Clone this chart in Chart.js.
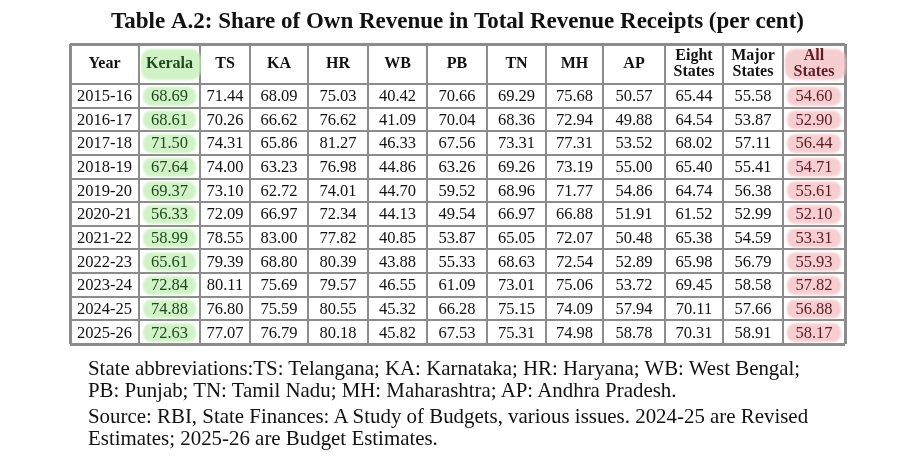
<!DOCTYPE html>
<html><head><meta charset="utf-8">
<script src="https://cdn.jsdelivr.net/npm/chart.js@4/dist/chart.umd.min.js"></script>
<style>
html,body{margin:0;padding:0;background:#fff;width:923px;height:461px;overflow:hidden}
#wrap{position:relative;width:923px;height:461px}
#note{position:absolute;left:88px;top:357px;font-family:'Liberation Serif',serif;font-size:20.9px;line-height:22px;color:#111;white-space:nowrap}
#note div{height:22px}
#note .gap{margin-top:4px}
</style></head><body>
<div id="wrap"><canvas id="c"></canvas>
<div id="note">
<div>State abbreviations:TS: Telangana; KA: Karnataka; HR: Haryana; WB: West Bengal;</div>
<div>PB: Punjab; TN: Tamil Nadu; MH: Maharashtra; AP: Andhra Pradesh.</div>
<div class="gap">Source: RBI, State Finances: A Study of Budgets, various issues. 2024-25 are Revised</div>
<div>Estimates; 2025-26 are Budget Estimates.</div>
</div>
</div>
<script>
// ---- data ----
const titleText = 'Table A.2: Share of Own Revenue in Total Revenue Receipts (per cent)';
const years = ['2015-16','2016-17','2017-18','2018-19','2019-20','2020-21','2021-22','2022-23','2023-24','2024-25','2025-26'];
const headers = ['Year','Kerala','TS','KA','HR','WB','PB','TN','MH','AP',['Eight','States'],['Major','States'],['All','States']];
const kerala = [68.69,68.61,71.50,67.64,69.37,56.33,58.99,65.61,72.84,74.88,72.63];
const ts     = [71.44,70.26,74.31,74.00,73.10,72.09,78.55,79.39,80.11,76.80,77.07];
const ka     = [68.09,66.62,65.86,63.23,62.72,66.97,83.00,68.80,75.69,75.59,76.79];
const hr     = [75.03,76.62,81.27,76.98,74.01,72.34,77.82,80.39,79.57,80.55,80.18];
const wb     = [40.42,41.09,46.33,44.86,44.70,44.13,40.85,43.88,46.55,45.32,45.82];
const pb     = [70.66,70.04,67.56,63.26,59.52,49.54,53.87,55.33,61.09,66.28,67.53];
const tn     = [69.29,68.36,73.31,69.26,68.96,66.97,65.05,68.63,73.01,75.15,75.31];
const mh     = [75.68,72.94,77.31,73.19,71.77,66.88,72.07,72.54,75.06,74.09,74.98];
const ap     = [50.57,49.88,53.52,55.00,54.86,51.91,50.48,52.89,53.72,57.94,58.78];
const eight  = [65.44,64.54,68.02,65.40,64.74,61.52,65.38,65.98,69.45,70.11,70.31];
const major  = [55.58,53.87,57.11,55.41,56.38,52.99,54.59,56.79,58.58,57.66,58.91];
const allStates = [54.60,52.90,56.44,54.71,55.61,52.10,53.31,55.93,57.82,56.88,58.17];
const series = [kerala,ts,ka,hr,wb,pb,tn,mh,ap,eight,major,allStates];

// ---- layout (relative units, separate from data) ----
const colWidths = [69,61,50,58,60,59,60,59,57,62,58,60,62];
const headerH = 40, rowH = 23.6;
const xEdges = colWidths.reduce((a,w)=>{a.push(a[a.length-1]+w);return a;},[0]);
const yEdges = [0, headerH]; years.forEach(()=>yEdges.push(yEdges[yEdges.length-1]+rowH));
const colCenter = i => (xEdges[i]+xEdges[i+1])/2;
const rowCenter = r => (yEdges[r+1]+yEdges[r+2])/2;
const FONT = "'Liberation Serif', 'Times New Roman', serif";
const hl = {1:{fill:'rgba(200,240,188,0.85)',text:'#1f4a1f'}, 12:{fill:'rgba(245,196,200,0.85)',text:'#5a1e24'}};

const datasets = series.map((vals,si)=>({
  label: Array.isArray(headers[si+1])?headers[si+1].join(' '):headers[si+1],
  col: si+1,
  data: vals.map((v,r)=>({x: colCenter(si+1), y: rowCenter(r), v})),
  pointRadius: 0, showLine:false
}));

function rr(ctx,x,y,w,h,r){ctx.beginPath();ctx.moveTo(x+r,y);ctx.arcTo(x+w,y,x+w,y+h,r);ctx.arcTo(x+w,y+h,x,y+h,r);ctx.arcTo(x,y+h,x,y,r);ctx.arcTo(x,y,x+w,y,r);ctx.closePath();}

const tablePlugin = {
  id:'tablePlugin',
  beforeDatasetsDraw(chart){
    const {ctx, scales:{x,y}} = chart;
    ctx.save();
    ctx.filter = 'blur(0.8px)';
    Object.keys(hl).forEach(k=>{
      const c = +k;
      const l = x.getPixelForValue(xEdges[c]), r = x.getPixelForValue(xEdges[c+1]);
      ctx.fillStyle = hl[k].fill;
      const ht = y.getPixelForValue(yEdges[0]), hb = y.getPixelForValue(yEdges[1]);
      rr(ctx, l+2, ht+5, r-l-1, hb-ht-9, 10); ctx.fill();
      years.forEach((_,ri)=>{
        const t = y.getPixelForValue(yEdges[ri+1]), b = y.getPixelForValue(yEdges[ri+2]);
        rr(ctx, l+4, t+3, r-l-8, b-t-5, 8); ctx.fill();
      });
    });
    ctx.restore();
  },
  afterDatasetsDraw(chart){
    const {ctx, scales:{x,y}} = chart;
    ctx.save();
    ctx.textAlign='center'; ctx.textBaseline='middle';
    ctx.font = 'bold 16px '+FONT;
    const hc = y.getPixelForValue(headerH/2);
    headers.forEach((h,i)=>{
      ctx.fillStyle = hl[i]?hl[i].text:'#111';
      const cx = x.getPixelForValue(colCenter(i));
      if(Array.isArray(h)){ctx.fillText(h[0],cx,hc-8);ctx.fillText(h[1],cx,hc+8);}
      else ctx.fillText(h,cx,hc);
    });
    ctx.font = '16.5px '+FONT; ctx.fillStyle='#111';
    years.forEach((yr,r)=>ctx.fillText(yr, x.getPixelForValue(colCenter(0)), y.getPixelForValue(rowCenter(r))+1));
    chart.data.datasets.forEach((ds,di)=>{
      const meta = chart.getDatasetMeta(di);
      ctx.fillStyle = hl[ds.col]?hl[ds.col].text:'#111';
      meta.data.forEach((el,j)=>ctx.fillText(ds.data[j].v.toFixed(2), el.x, el.y+1));
    });
    ctx.restore();
  }
};

const gridStyle = edges => ({
  color:'#8c8c8c', drawTicks:false,
  lineWidth: c => (c.index===0 || c.index===edges.length-1) ? 3 : 2
});

new Chart(document.getElementById('c'), {
  type:'scatter',
  data:{datasets},
  options:{
    responsive:true, maintainAspectRatio:false, animation:false, devicePixelRatio:1,
    layout:{padding:{left:70,right:78,top:8,bottom:117}},
    plugins:{
      legend:{display:false}, tooltip:{enabled:false},
      title:{display:true,text:titleText,color:'#111',font:{family:FONT,size:23,weight:'bold'},padding:{top:0,bottom:8.4}}
    },
    scales:{
      x:{type:'linear',min:0,max:xEdges[xEdges.length-1],
        afterBuildTicks:s=>{s.ticks=xEdges.map(v=>({value:v}));},
        afterFit:s=>{s.height=0;},
        ticks:{display:false}, grid:gridStyle(xEdges), border:{display:false}},
      y:{type:'linear',reverse:true,min:0,max:yEdges[yEdges.length-1],
        afterBuildTicks:s=>{s.ticks=yEdges.map(v=>({value:v}));},
        afterFit:s=>{s.width=0;},
        ticks:{display:false}, grid:gridStyle(yEdges), border:{display:false}}
    }
  },
  plugins:[tablePlugin]
});
</script>
</body></html>
